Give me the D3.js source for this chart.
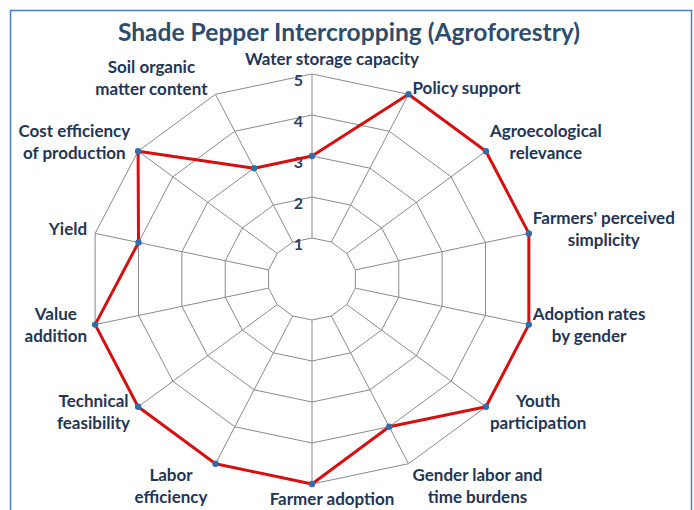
<!DOCTYPE html>
<html>
<head>
<meta charset="utf-8">
<script src="https://cdn.jsdelivr.net/npm/d3@7"></script>
<style>
  html, body { margin: 0; padding: 0; background: #fff; }
  svg { display: block; font-family: Lato, "Open Sans", sans-serif; }
</style>
</head>
<body>
<div id="chart"></div>
<script>
(function () {
  'use strict';

  var axes = [
    'Water storage capacity',
    'Policy support',
    'Agroecological\nrelevance',
    "Farmers' perceived\nsimplicity",
    'Adoption rates\nby gender',
    'Youth\nparticipation',
    'Gender labor and\ntime burdens',
    'Farmer adoption',
    'Labor\nefficiency',
    'Technical\nfeasibility',
    'Value\naddition',
    'Yield',
    'Cost efficiency\nof production',
    'Soil organic\nmatter content'
  ];
  var scores = [3, 5, 5, 5, 5, 5, 4, 5, 5, 5, 5, 4, 5, 3];
  var ringLevels = [1, 2, 3, 4, 5];
  var chartTitle = 'Shade Pepper Intercropping (Agroforestry)';

  var W = 694, H = 510;
  var cx = 312, cy = 279;
  var xStretch = 1.085;
  var labelColor = '#1f3656';

  var svg = d3.select('#chart').append('svg').attr('width', W).attr('height', H);

  // frame
  svg.append('rect')
    .attr('x', 10.5).attr('y', 10.5)
    .attr('width', 681).attr('height', 520)
    .attr('fill', 'none').attr('stroke', '#4a7bd0').attr('stroke-width', 1.5);

  svg.append('text')
    .attr('x', 349).attr('y', 41)
    .attr('text-anchor', 'middle')
    .attr('fill', '#2c4d70')
    .attr('font-size', '24.6px').attr('font-weight', 700)
    .text(chartTitle);

  var r = d3.scaleLinear().domain([0, 5]).range([0, 205]);
  var step = 2 * Math.PI / axes.length;

  function pt(i, v) {
    var a = i * step;
    return [cx + r(v) * Math.sin(a) * xStretch, cy - r(v) * Math.cos(a)];
  }

  var g = svg.append('g');

  // rings
  ringLevels.forEach(function (lv) {
    g.append('path')
      .attr('d', d3.line()(axes.map(function (d, i) { return pt(i, lv); })) + 'Z')
      .attr('fill', 'none').attr('stroke', '#8a8a8a').attr('stroke-width', 1);
  });

  // spokes
  axes.forEach(function (d, i) {
    var p0 = pt(i, ringLevels[0]);
    var p1 = pt(i, ringLevels[ringLevels.length - 1]);
    g.append('line')
      .attr('x1', p0[0]).attr('y1', p0[1]).attr('x2', p1[0]).attr('y2', p1[1])
      .attr('stroke', '#8a8a8a').attr('stroke-width', 1);
  });

  // tick labels on the first axis
  ringLevels.forEach(function (lv) {
    var p = pt(0, lv);
    g.append('text')
      .attr('x', p[0] - 9).attr('y', p[1] + 12)
      .attr('text-anchor', 'end')
      .attr('fill', '#2a3f5f')
      .attr('font-size', '16px').attr('font-weight', 700)
      .text(lv);
  });

  // series
  var pts = scores.map(function (v, i) { return pt(i, v); });
  g.append('path')
    .attr('d', d3.line()(pts) + 'Z')
    .attr('fill', 'none').attr('stroke', '#d80f0f').attr('stroke-width', 3)
    .attr('stroke-linejoin', 'round');
  g.selectAll('circle.dot').data(pts).join('circle')
    .attr('class', 'dot')
    .attr('cx', function (d) { return d[0]; })
    .attr('cy', function (d) { return d[1]; })
    .attr('r', 3.2)
    .attr('fill', '#2f6ea8');

  // category labels
  var lineH = 22;
  axes.forEach(function (name, i) {
    var lines = name.split('\n');
    var a = i * step;
    var s = Math.sin(a), c = Math.cos(a);
    var corner = pt(i, 5);
    var t = g.append('text')
      .attr('fill', labelColor)
      .attr('font-size', '17px').attr('font-weight', 700)
      .attr('text-anchor', 'middle');
    var spans = lines.map(function (ln) { return t.append('tspan').text(ln); });
    var w = d3.max(spans, function (sp) { return sp.node().getComputedTextLength(); });
    var h = lines.length * lineH;
    var bx, by;
    if (Math.abs(s) < 0.05) {
      bx = corner[0] + 20;
      by = corner[1] - c * 15;
    } else {
      bx = s > 0 ? corner[0] + 4 + w / 2 : corner[0] - 8 - w / 2;
      by = Math.abs(c) > 0.8
        ? corner[1] - c * (h / 2 + (c > 0 ? -4 : 3))
        : corner[1] - c * 12 - 2;
    }
    spans.forEach(function (sp, k) {
      sp.attr('x', bx).attr('y', by - h / 2 + lineH * k + 17);
    });
  });
})();
</script>
</body>
</html>
